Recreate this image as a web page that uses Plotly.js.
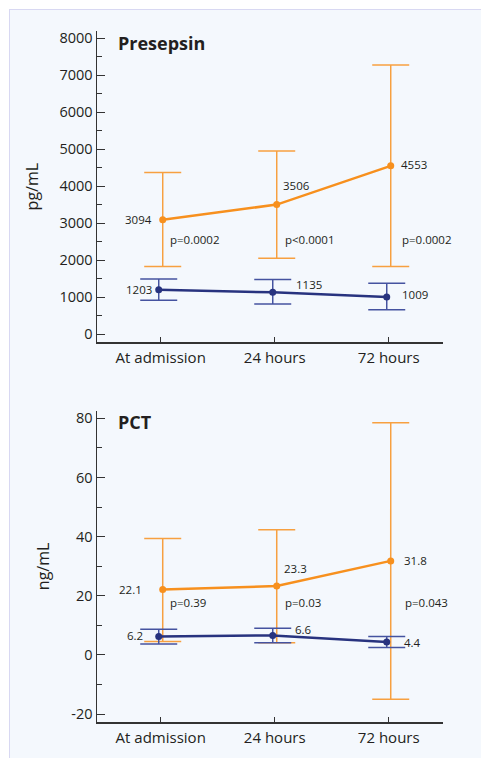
<!DOCTYPE html>
<html>
<head>
<meta charset="utf-8">
<script src="https://cdn.plot.ly/plotly-3.0.1.min.js"></script>
<style>
  html, body { margin:0; padding:0; background:#ffffff; }
  #chart { position:absolute; left:9px; top:9px; width:471px; height:748px;
           border-left:1px solid #d8d8f2; border-top:1px solid #d8d8f2; }
</style>
</head>
<body>
<div id="chart"></div>
<script>
// ---- data ----
const categories = ["At admission", "24 hours", "72 hours"];

// Presepsin (pg/mL)
const presepsinOrange      = [3094, 3506, 4553];
const presepsinOrangeUpper = [4370, 4955, 7280];
const presepsinOrangeLower = [1830, 2055, 1830];
const presepsinBlue        = [1203, 1135, 1009];
const presepsinBlueUpper   = [1495, 1478, 1380];
const presepsinBlueLower   = [920, 820, 665];
const presepsinP           = ["p=0.0002", "p<0.0001", "p=0.0002"];
const presepsinTicks       = [0, 1000, 2000, 3000, 4000, 5000, 6000, 7000, 8000];

// PCT (ng/mL)
const pctOrange      = [22.1, 23.3, 31.8];
const pctOrangeUpper = [39.4, 42.3, 78.5];
const pctOrangeLower = [4.5, 4.1, -15.0];
const pctBlue        = [6.2, 6.6, 4.4];
const pctBlueUpper   = [8.7, 9.0, 6.2];
const pctBlueLower   = [3.7, 4.1, 2.5];
const pctP           = ["p=0.39", "p=0.03", "p=0.043"];
const pctTicks       = [-20, 0, 20, 40, 60, 80];

// ---- styles ----
const ORANGE = "#f7901e", ORANGE_EB = "#f7a040";
const NAVY = "#28337f", NAVY_EB = "#4553a0";
const FONT = "Open Sans, Noto Sans, sans-serif";
const TXT = "#231f20";
const idx = categories.map((c, i) => i);
const OFF = 0.0175; // small horizontal separation between the two series

function series(vals, up, lo, color, ebColor, dx, xa, ya) {
  return {
    x: idx.map(i => i + dx), y: vals, xaxis: xa, yaxis: ya,
    type: "scatter", mode: "lines+markers",
    line: { color: color, width: 2.5 },
    marker: { color: color, size: 7 },
    error_y: { type: "data", symmetric: false,
      array: vals.map((v, i) => up[i] - v),
      arrayminus: vals.map((v, i) => v - lo[i]),
      color: ebColor, thickness: 1.5, width: 18.5 },
    hoverinfo: "skip", showlegend: false, cliponaxis: false
  };
}

const traces = [
  series(presepsinOrange, presepsinOrangeUpper, presepsinOrangeLower, ORANGE, ORANGE_EB, OFF, "x", "y"),
  series(presepsinBlue, presepsinBlueUpper, presepsinBlueLower, NAVY, NAVY_EB, -OFF, "x", "y"),
  series(pctOrange, pctOrangeUpper, pctOrangeLower, ORANGE, ORANGE_EB, OFF, "x2", "y2"),
  series(pctBlue, pctBlueUpper, pctBlueLower, NAVY, NAVY_EB, -OFF, "x2", "y2")
];

const ann = [];
function valLabels(vals, fmt, dx, xr, yr, shifts) {
  vals.forEach((v, i) => ann.push({
    x: i + dx, y: v, xref: xr, yref: yr, text: fmt(v), showarrow: false,
    xanchor: "center", yanchor: "middle",
    xshift: shifts[i][0], yshift: shifts[i][1],
    font: { family: FONT, size: 11.5, color: TXT }
  }));
}
valLabels(presepsinOrange, v => String(v), OFF, "x", "y", [[-24, 0], [20, 19], [23, 1]]);
valLabels(presepsinBlue, v => String(v), -OFF, "x", "y", [[-20, 0], [36, 8], [28, 2]]);
valLabels(pctOrange, v => v.toFixed(1), OFF, "x2", "y2", [[-32, 0], [19, 18], [25, 0]]);
valLabels(pctBlue, v => v.toFixed(1), -OFF, "x2", "y2", [[-24, 1], [31, 6], [26, -1]]);

function pLabels(txts, xr, yr, yfrac, shifts) {
  txts.forEach((t, i) => ann.push({
    x: i, y: yfrac, xref: xr, yref: yr + " domain", text: t, showarrow: false,
    xanchor: "left", yanchor: "middle", xshift: shifts[i],
    font: { family: FONT, size: 11.5, color: TXT }
  }));
}
pLabels(presepsinP, "x", "y", 0.3315, [7, 8, 11]);
pLabels(pctP, "x2", "y2", 0.3838, [7, 8, 14]);

ann.push({ x: 0.055, y: 0.963, xref: "x domain", yref: "y domain", text: "<b>Presepsin</b>",
  showarrow: false, xanchor: "left", yanchor: "middle", font: { family: FONT, size: 18, color: TXT } });
ann.push({ x: 0.055, y: 0.965, xref: "x2 domain", yref: "y2 domain", text: "<b>PCT</b>",
  showarrow: false, xanchor: "left", yanchor: "middle", font: { family: FONT, size: 18, color: TXT } });

const xBase = {
  range: [-0.559, 2.476], tickvals: idx, ticktext: categories,
  showline: true, linecolor: "#333", linewidth: 1.5, mirror: false,
  ticks: "inside", ticklen: 5, tickwidth: 1, tickcolor: "#333",
  showgrid: false, zeroline: false, ticklabelstandoff: 1,
  tickfont: { family: FONT, size: 15, color: TXT }, fixedrange: true
};
function yBase(range, ticks, title) {
  const step = ticks[1] - ticks[0];
  return {
    range: range, tickmode: "array", tickvals: ticks, ticktext: ticks.map(String),
    showline: true, linecolor: "#333", linewidth: 1.5,
    ticks: "inside", ticklen: 8, tickwidth: 1, tickcolor: "#333",
    minor: { dtick: step / 2, tick0: 0, ticks: "inside", ticklen: 5, tickwidth: 1, tickcolor: "#333" },
    showgrid: false, zeroline: false,
    tickfont: { family: FONT, size: 14.5, color: TXT },
    title: { text: title, font: { family: FONT, size: 16, color: TXT }, standoff: 17 },
    fixedrange: true
  };
}

const layout = {
  width: 471, height: 748,
  margin: { l: 87, r: 38, t: 21, b: 36 },
  paper_bgcolor: "#f4f8fd", plot_bgcolor: "rgba(0,0,0,0)",
  showlegend: false,
  xaxis: Object.assign({}, xBase, { anchor: "y" }),
  yaxis: Object.assign(yBase([-216, 8197], presepsinTicks, "pg/mL"), { domain: [0.5495, 1], anchor: "x" }),
  xaxis2: Object.assign({}, xBase, { anchor: "y2" }),
  yaxis2: Object.assign(yBase([-22.7, 82.6], pctTicks, "ng/mL"), { domain: [0, 0.4505], anchor: "x2" }),
  annotations: ann
};

Plotly.newPlot("chart", traces, layout, { displayModeBar: false, staticPlot: true });
</script>
</body>
</html>
